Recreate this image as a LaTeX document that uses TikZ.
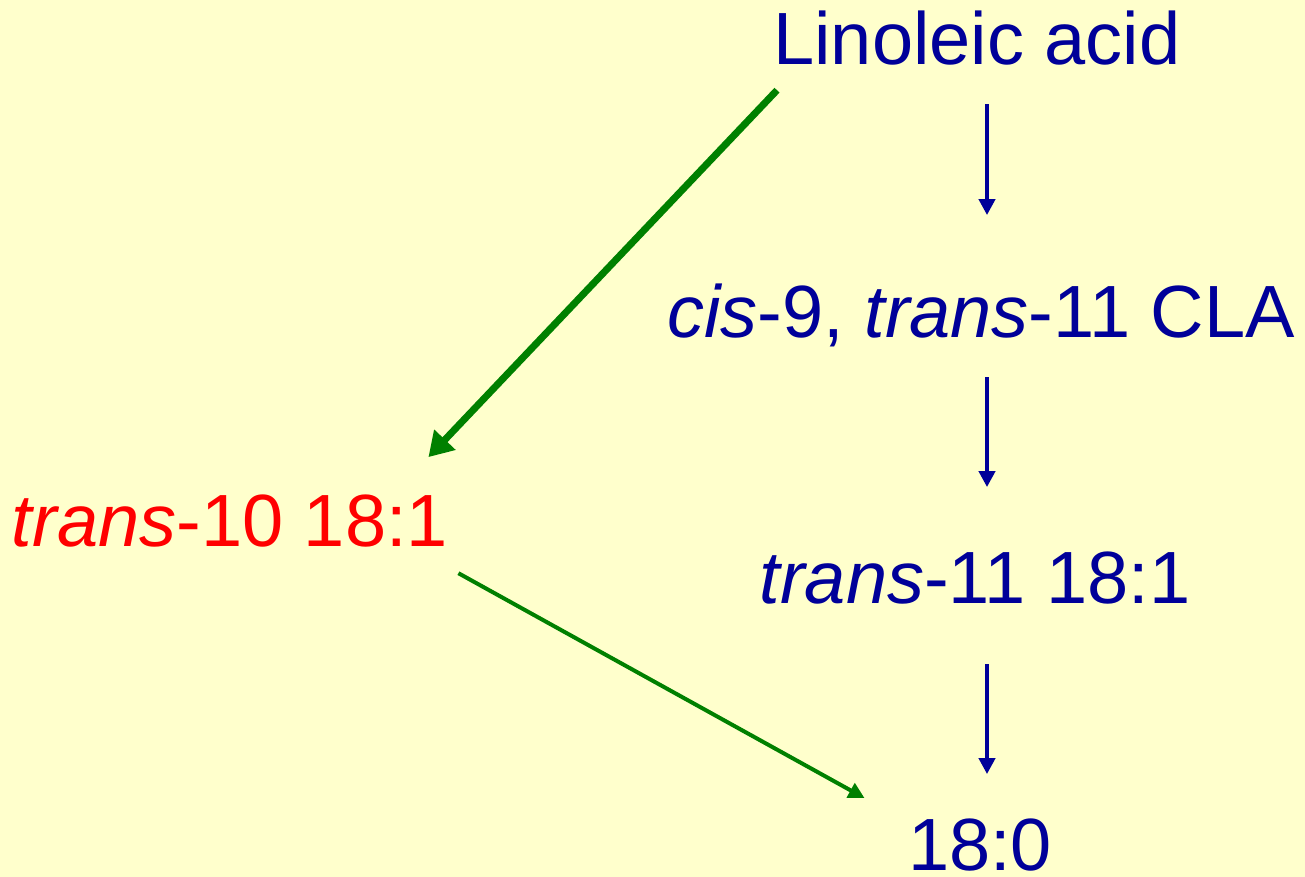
\documentclass[tikz,border=0pt]{standalone}
\usepackage{fontspec}
\setmainfont{Liberation Sans}
\usetikzlibrary{arrows.meta}

\definecolor{pathblue}{RGB}{0,0,153}
\definecolor{pathgreen}{RGB}{0,128,0}
\definecolor{pathred}{RGB}{255,0,0}
\definecolor{slidebg}{RGB}{255,255,204}

\begin{document}
\begin{tikzpicture}[
        x=0.5pt, y=-0.5pt,
        font=\fontsize{37}{44}\selectfont,
        acid/.style={anchor=base, inner sep=0pt, text height=27.75pt, text depth=7.4pt, text=pathblue},
        bluelink/.style={draw=pathblue, line width=2pt, -{Triangle[length=8pt,width=8pt]}},
        greenlink/.style={draw=pathgreen, line width=2pt, -{Triangle[length=8pt,width=8pt]}},
        majorlink/.style={draw=pathgreen, line width=3.5pt, -{Triangle[length=12pt,width=14pt]}}
    ]
        \useasboundingbox (0,0) rectangle (1305,877);
        \fill[slidebg] (0,0) rectangle (1305,877);

        \node[acid] (linoleic) at (977,65) {Linoleic acid};
        \node[acid] (cla) at (981,337) {\textit{cis}-9, \textit{trans}-11 CLA};
        \node[acid] (t11) at (975,603) {\textit{trans}-11 18:1};
        \node[acid] (stearic) at (980,870) {18:0};
        \node[acid, text=pathred] (t10) at (230,546) {\textit{trans}-10 18:1};

        % main pathway
        \coordinate (col) at (987,0);
        \draw[bluelink, shorten <=12pt, shorten >=33pt] (linoleic.south -| col) -- (cla.north -| col);
        \draw[bluelink, shorten <=12.5pt, shorten >=30pt] (cla.south -| col) -- (t11.north -| col);
        \draw[bluelink, shorten <=23pt, shorten >=20pt] (t11.south -| col) -- (stearic.north -| col);

        % shifted pathway
        \draw[majorlink] ([shift={(4,10)}]linoleic.south west) -- ([shift={(-20,-33)}]t10.north east);
        \draw[greenlink] ([shift={(10,12)}]t10.south east) -- ([shift={(-43,-16)}]stearic.north west);
    \end{tikzpicture}
\end{document}
